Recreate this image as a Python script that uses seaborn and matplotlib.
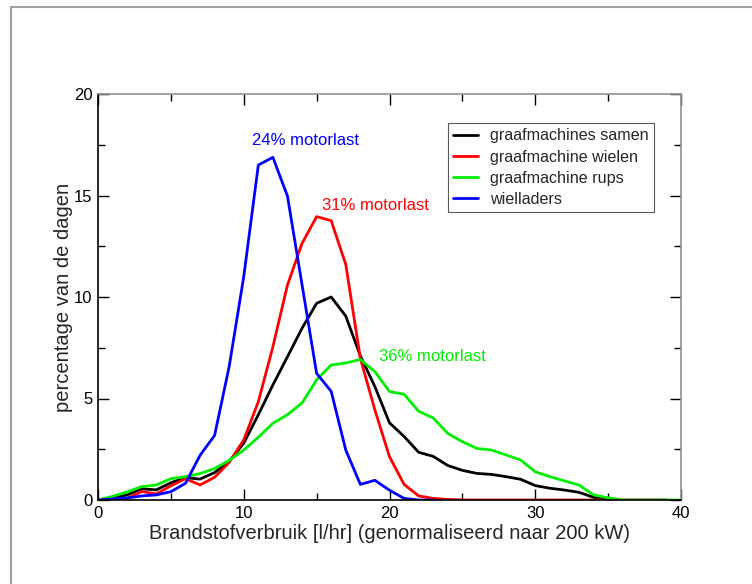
import numpy as np
import pandas as pd
import matplotlib
matplotlib.use("Agg")
import matplotlib.pyplot as plt
import seaborn as sns
from matplotlib.lines import Line2D
from matplotlib.ticker import MultipleLocator

# ---- data ----
x_samen = list(range(0, 36))
samen = [0, 0.1, 0.25, 0.55, 0.5, 0.85, 1.1, 1.03, 1.35, 1.9, 2.8, 4.2, 5.67, 7.06,
         8.46, 9.69, 10.0, 9.06, 7.1, 5.58, 3.8, 3.13, 2.35, 2.15, 1.7, 1.46, 1.31,
         1.26, 1.15, 1.02, 0.71, 0.58, 0.49, 0.38, 0.13, 0.02]

x_wielen = list(range(0, 40))
wielen = [0, 0.02, 0.08, 0.42, 0.3, 0.7, 1.05, 0.74, 1.12, 1.85, 2.96, 4.84, 7.55,
          10.59, 12.64, 13.96, 13.76, 11.6, 6.98, 4.43, 2.13, 0.77, 0.2, 0.08, 0.03,
          0, 0, 0, 0, 0, 0, 0, 0, 0, 0, 0, 0, 0, 0, 0]

x_rups = list(range(0, 41))
rups = [0, 0.18, 0.4, 0.66, 0.74, 1.05, 1.15, 1.3, 1.55, 1.95, 2.46, 3.09, 3.78, 4.2,
        4.78, 5.92, 6.65, 6.75, 6.92, 6.32, 5.34, 5.21, 4.37, 4.04, 3.28, 2.87, 2.54,
        2.46, 2.22, 1.97, 1.39, 1.15, 0.94, 0.74, 0.25, 0.11, 0, 0, 0, 0, 0]

x_laders = list(range(0, 24))
laders = [0, 0.05, 0.1, 0.2, 0.25, 0.41, 0.82, 2.2, 3.18, 6.57, 11.0, 16.5, 16.88,
          14.97, 10.6, 6.24, 5.35, 2.46, 0.77, 0.97, 0.48, 0.08, 0, 0]

series_names = ["graafmachines samen", "graafmachine wielen",
                "graafmachine rups", "wielladers"]
colors = ["#000000", "#ff0000", "#00ee00", "#0000ff"]

annotations = [("24% motorlast", 10.6, 17.7, "#0000ff"),
               ("31% motorlast", 15.35, 14.5, "#ff0000"),
               ("36% motorlast", 19.3, 7.06, "#00ee00")]

frames = []
for name, xs, ys in zip(series_names,
                        [x_samen, x_wielen, x_rups, x_laders],
                        [samen, wielen, rups, laders]):
    frames.append(pd.DataFrame({"x": xs, "y": ys, "serie": name}))
df = pd.concat(frames, ignore_index=True)

# ---- plotting ----
sns.set_style("ticks")
plt.rcParams["font.family"] = ["Liberation Sans", "DejaVu Sans"]

fig = plt.figure(figsize=(7.52, 5.84), dpi=100)
ax = fig.add_axes([98 / 752, 84 / 584, 583 / 752, 406 / 584])

sns.lineplot(data=df, x="x", y="y", hue="serie", hue_order=series_names,
             palette=colors, linewidth=2.0, ax=ax, legend=False, sort=False,
             estimator=None)

ax.set_xlim(0, 40)
ax.set_ylim(0, 20)
ax.xaxis.set_major_locator(MultipleLocator(10))
ax.xaxis.set_minor_locator(MultipleLocator(5))
ax.yaxis.set_major_locator(MultipleLocator(5))
ax.yaxis.set_minor_locator(MultipleLocator(2.5))

ax.tick_params(which="both", direction="in", top=True, right=True,
               labelsize=12, colors="#000000", pad=4)
ax.tick_params(which="major", length=8, width=1)
ax.tick_params(which="minor", length=5, width=1)

# mirrored ticks on top/right are grey in the reference
for axis in (ax.xaxis, ax.yaxis):
    for t in axis.get_major_ticks() + axis.get_minor_ticks():
        t.tick2line.set_color("#808080")

for side in ["left", "bottom"]:
    ax.spines[side].set_color("#000000")
    ax.spines[side].set_linewidth(1.2)
for side in ["top", "right"]:
    ax.spines[side].set_color("#909090")
    ax.spines[side].set_linewidth(1.2)

ax.set_xlabel("Brandstofverbruik [l/hr] (genormaliseerd naar 200 kW)", fontsize=14.5)
ax.set_ylabel("percentage van de dagen", fontsize=14.5)
ax.xaxis.set_label_coords(0.5, -0.060)
ax.yaxis.set_label_coords(-0.043, 0.5)

for txt, tx, ty, c in annotations:
    ax.text(tx, ty, txt, color=c, fontsize=12, ha="left", va="center")

handles = [Line2D([0], [0], color=c, lw=2.0) for c in colors]
leg = ax.legend(handles, series_names, loc="upper left",
                bbox_to_anchor=(0.600, 0.929), borderaxespad=0,
                fontsize=11.6, frameon=True, fancybox=False, handlelength=1.5,
                handletextpad=0.75, labelspacing=0.38, borderpad=0.35)
leg.get_frame().set_edgecolor("#303030")
leg.get_frame().set_linewidth(0.8)

# outer frame lines (top and left) as in the reference image
fig.add_artist(Line2D([11 / 752, 1.0], [1 - 7 / 584, 1 - 7 / 584],
                      color="#a0a0a0", lw=1.5, transform=fig.transFigure))
fig.add_artist(Line2D([11 / 752, 11 / 752], [0.0, 1 - 7 / 584],
                      color="#a0a0a0", lw=1.5, transform=fig.transFigure))

fig.savefig("out.png", dpi=100)
